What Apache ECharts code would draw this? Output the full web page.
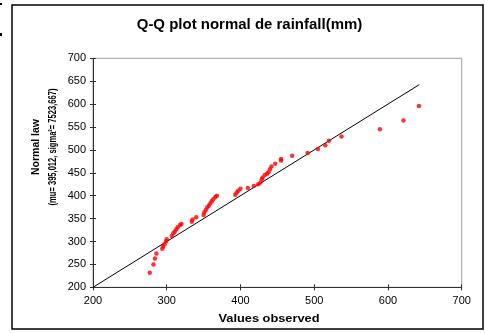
<!DOCTYPE html>
<html>
<head>
<meta charset="utf-8">
<script src="https://cdn.jsdelivr.net/npm/echarts@6/dist/echarts.min.js"></script>
<style>
html,body{margin:0;padding:0;background:#fff;}
#c{width:485px;height:333px;}
</style>
</head>
<body>
<div id="c"></div>
<script>
// Observed values (x) and normal-law quantiles (y)
const observed = [277,282,284,286,294,295,297,299,300,307,309,311,313,315,318,320,
  334,335,340,350,351,353,355,357,359,361,363,366,368,
  393,395,397,400,410,418,424,427,429,430,433,436,438,440,442,447,455,455,470,491,505,515,520,537,589,621,642];
const normalLaw = [232,250,263,274,284,289,294,300,305,312,318,322,327,331,336,338,
  343,348,353,358,364,369,374,378,383,388,392,397,400,
  402,407,411,415,417,421,425,429,436,440,445,448,451,458,464,470,477,480,487,493,502,510,520,529,545,564,596];
// Reference line y = x
const refLineX = [200, 642.5];
const refLineY = [200, 642.5];
const xTickLabels = [200,300,400,500,600,700];
const yTickLabels = [200,250,300,350,400,450,500,550,600,650,700];

const chart = echarts.init(document.getElementById('c'), null, {renderer:'canvas'});
const FONT = 'Liberation Sans, Arial, sans-serif';
const axisCommon = {
  type:'value', splitLine:{show:false}
};
const option = {
  animation:false,
  backgroundColor:'#fff',
  grid:{left:93, right:23.3, top:58.3, bottom:45.7, show:true, borderColor:'#a0a0a0', borderWidth:1, backgroundColor:'#fff'},
  xAxis:[
    Object.assign({}, axisCommon, {
      min:xTickLabels[0], max:xTickLabels[xTickLabels.length-1], interval:100, position:'bottom',
      axisLine:{lineStyle:{color:'#303030', width:1}},
      axisTick:{show:true, inside:false, length:3, lineStyle:{color:'#303030'}},
      axisLabel:{fontFamily:FONT, fontSize:11, color:'#000', margin:8}
    }),
    Object.assign({}, axisCommon, {
      min:xTickLabels[0], max:xTickLabels[xTickLabels.length-1], interval:100, position:'bottom',
      axisLine:{show:false},
      axisTick:{show:true, inside:true, length:3, lineStyle:{color:'#303030'}},
      axisLabel:{show:false}
    })
  ],
  yAxis:[
    Object.assign({}, axisCommon, {
      min:yTickLabels[0], max:yTickLabels[yTickLabels.length-1], interval:50, position:'left',
      axisLine:{show:true, lineStyle:{color:'#303030', width:1}},
      axisTick:{show:true, inside:false, length:3, lineStyle:{color:'#303030'}},
      axisLabel:{fontFamily:FONT, fontSize:11, color:'#000', margin:7}
    }),
    Object.assign({}, axisCommon, {
      min:yTickLabels[0], max:yTickLabels[yTickLabels.length-1], interval:50, position:'left',
      axisLine:{show:false},
      axisTick:{show:true, inside:true, length:3, lineStyle:{color:'#303030'}},
      axisLabel:{show:false}
    })
  ],
  series:[
    {
      type:'line', xAxisIndex:0, yAxisIndex:0,
      data: refLineX.map((x,i)=>[x, refLineY[i]]),
      symbol:'none', lineStyle:{color:'#000', width:1}, z:2
    },
    {
      type:'scatter', xAxisIndex:0, yAxisIndex:0,
      data: observed.map((x,i)=>[x, normalLaw[i]]),
      symbol:'circle', symbolSize:4.5,
      itemStyle:{color:'#ff0000'}, z:3
    }
  ],
  graphic:[
    {type:'rect', shape:{x:12, y:5, width:471, height:324}, style:{fill:'none', stroke:'#000', lineWidth:1.5}, z:-1},
    {type:'rect', shape:{x:0, y:3, width:2, height:2}, style:{fill:'#000'}},
    {type:'rect', shape:{x:0, y:33, width:2, height:3}, style:{fill:'#000'}},
    {type:'text', x:249.5, y:25, scaleX:1.07,
      style:{text:'Q-Q plot normal de rainfall(mm)', font:'bold 14px '+FONT, fill:'#000', textAlign:'center', textVerticalAlign:'middle'}},
    {type:'text', x:36, y:147, rotation:Math.PI/2,
      style:{text:'Normal law', font:'bold 10.5px '+FONT, fill:'#000', textAlign:'center', textVerticalAlign:'middle'}},
    {type:'text', x:53, y:147, rotation:Math.PI/2, scaleX:0.72,
      style:{text:'(mu= 395,012, sigma²= 7523,667)', font:'bold 10.5px '+FONT, fill:'#000', textAlign:'center', textVerticalAlign:'middle'}},
    {type:'text', x:269, y:319, scaleX:1.28,
      style:{text:'Values observed', font:'bold 10px '+FONT, fill:'#000', textAlign:'center', textVerticalAlign:'middle'}}
  ]
};
chart.setOption(option);
</script>
</body>
</html>
